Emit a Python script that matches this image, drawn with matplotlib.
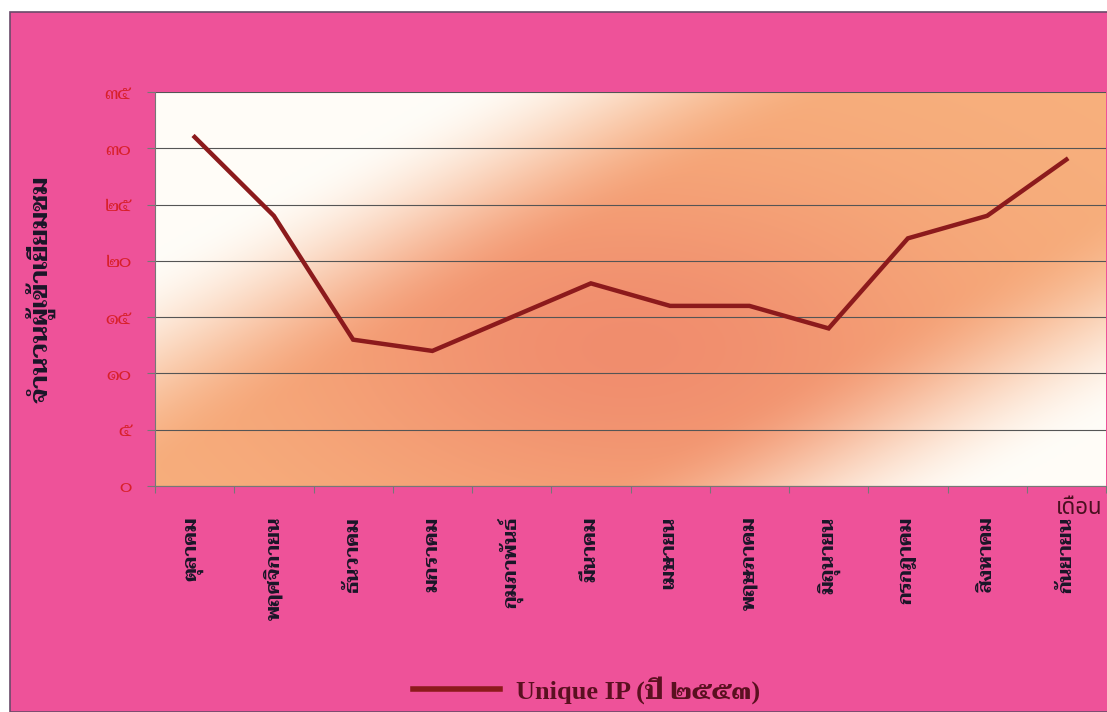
import numpy as np
import matplotlib
matplotlib.use('Agg')
import matplotlib.pyplot as plt
from matplotlib.patches import Rectangle
from matplotlib.lines import Line2D

months = ['ตุลาคม', 'พฤศจิกายน', 'ธันวาคม', 'มกราคม', 'กุมภาพันธ์', 'มีนาคม',
          'เมษายน', 'พฤษภาคม', 'มิถุนายน', 'กรกฎาคม', 'สิงหาคม', 'กันยายน']
visitors = [31, 24, 13, 12, 15, 18, 16, 16, 14, 22, 24, 29]
yticks = [0, 5, 10, 15, 20, 25, 30, 35]
ytick_labels = ['๐', '๕', '๑๐', '๑๕', '๒๐', '๒๕', '๓๐', '๓๕']
series_name = 'Unique IP (ปี ๒๕๕๓)'
ylabel = 'จำนวนผู้เข้าเยี่ยมชม'
xlabel = 'เดือน'

PINK = '#ee5299'
LINE = '#8c1a1c'
SERIF = ['Taviraj', 'Noto Serif Thai', 'DejaVu Serif']
LEG = ['Liberation Serif', 'Taviraj', 'Noto Serif Thai']

fig = plt.figure(figsize=(11.07, 7.12), dpi=100, facecolor='white')
# pink panel with thin dark border at top/left
fig.patches.append(Rectangle((10 / 1107, 0), 1.0, 1 - 12 / 712, transform=fig.transFigure,
                             facecolor=PINK, edgecolor='#6a4a6a', linewidth=1.2, zorder=-5))

ax = fig.add_axes([155 / 1107, 226 / 712, 951 / 1107, 394 / 712])
ax.set_zorder(1)
ax.set_facecolor('none')

# gradient fill of plot area (decoration)
ny, nx = 200, 400
xn = np.linspace(0, 1, nx)[None, :]
yn = np.linspace(0, 1, ny)[:, None]  # 0 = top
t = 0.57 * xn + 0.43 * yn
d = np.clip((np.abs(t - 0.555) - 0.14) / 0.24, 0, 1)
band = 1 - d * d * (3 - 2 * d)
core = np.exp(-(((xn - 0.5) / 0.35) ** 2 + ((yn - 0.65) / 0.45) ** 2))
white = np.array([1.0, 0.99, 0.97])
orange = np.array([0.97, 0.69, 0.49])
salmon = np.array([0.94, 0.53, 0.42])
col = white + band[..., None] * (orange - white)
col = col + (core * band)[..., None] * (salmon - orange) * 0.85
col = np.clip(col, 0, 1)
ax.imshow(col, extent=[-0.5, len(months) - 0.5, 0, 35], aspect='auto', zorder=0,
          interpolation='bicubic')

x = np.arange(len(months))
ax.plot(x, visitors, color=LINE, linewidth=3.2, solid_joinstyle='miter', zorder=3)

ax.set_xlim(-0.5, len(months) - 0.5)
ax.set_ylim(0, 35)
ax.set_yticks(yticks)
ax.set_yticklabels(ytick_labels, family=SERIF, color='#d8202a', fontsize=14)
ax.set_xticks(np.arange(len(months) + 1) - 0.5)
ax.set_xticklabels([])
ax.set_xticks(x, minor=True)
ax.set_xticklabels(months, minor=True, rotation=90, family=SERIF, fontweight='bold',
                   fontsize=14, color='#1a1628', va='top', ha='center')
ax.tick_params(axis='x', which='major', length=5, color='#777777', direction='out')
ax.tick_params(axis='x', which='minor', length=0, pad=22)
ax.tick_params(axis='y', length=6, color='#777777', pad=11)
ax.grid(axis='y', color='#555555', linewidth=0.8)
for s in ['top', 'right']:
    ax.spines[s].set_visible(False)
ax.spines['left'].set_color('#777777')
ax.spines['bottom'].set_color('#777777')

ax.set_ylabel(ylabel, family=SERIF, fontweight='bold', fontsize=18, color='#1a1628')
ax.yaxis.set_label_coords(-0.105, 0.5)
fig.text(1102 / 1107, 1 - 508 / 712, xlabel, family=['Noto Sans Thai', 'DejaVu Sans'],
         fontsize=16, color='#4a1020', ha='right', va='center')

# legend at the bottom
handle = Line2D([], [], color=LINE, linewidth=4)
leg = fig.legend([handle], [series_name], loc='center', bbox_to_anchor=(0.530, 1 - 690 / 712),
                 frameon=False, handlelength=3.3, handletextpad=0.6,
                 prop={'family': LEG, 'weight': 'bold', 'size': 19})
for txt in leg.get_texts():
    txt.set_color('#5a1020')

fig.savefig('out.png', dpi=100, facecolor=fig.get_facecolor())
